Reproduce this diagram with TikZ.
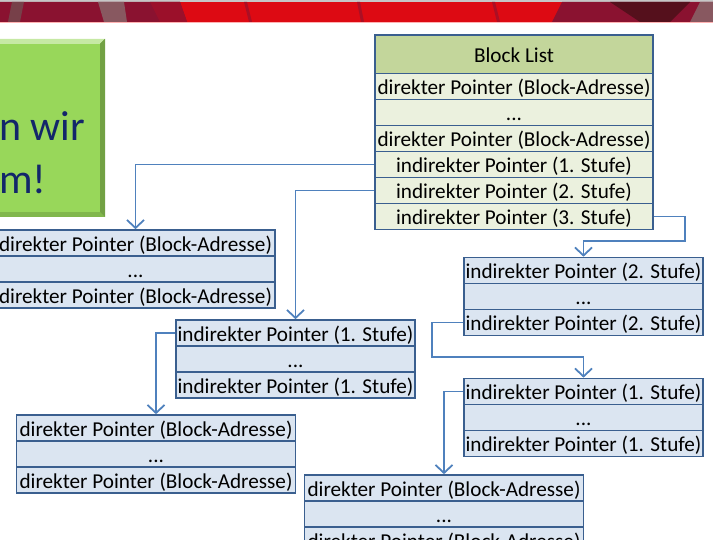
\documentclass[tikz,border=0pt]{standalone}
\usepackage{fontspec}
\setmainfont{Carlito}
\usetikzlibrary{arrows.meta}

\definecolor{tblline}{HTML}{3A5F8F}
\definecolor{arrline}{HTML}{4F81BD}
\definecolor{headfill}{HTML}{C3D69B}
\definecolor{listfill}{HTML}{EBF1DE}
\definecolor{blockfill}{HTML}{DBE5F1}
\definecolor{slidegreen}{HTML}{98D75A}
\definecolor{slidetext}{HTML}{13266A}
\definecolor{bannerred}{HTML}{DD0A13}
\definecolor{bannerdark}{HTML}{8A1230}
\definecolor{bannerdeep}{HTML}{55101C}

\tikzset{
  cell/.style={draw=tblline, line width=1.6pt, inner sep=0pt, minimum height=26pt,
    text height=18pt, text depth=1.2pt,
    font=\fontsize{21.2}{23}\selectfont, text=black},
  listcell/.style={cell, fill=listfill, minimum width=278pt},
  headcell/.style={cell, fill=headfill, minimum width=278pt, minimum height=38.5pt},
  dircell/.style={cell, fill=blockfill, minimum width=279pt},
  indcell/.style={cell, fill=blockfill, minimum width=239pt},
  arr/.style={draw=arrline, line width=1.8pt, -{Straight Barb[length=8pt,width=17pt,line width=1.8pt]}},
}

\begin{document}
\begin{tikzpicture}[x=1pt, y=-1pt]
  \useasboundingbox (0,0) rectangle (713,540);
  \clip (0,0) rectangle (713,540);

  % banner
  \fill[gray!45] (0,0) rectangle (713,2);
  \fill[bannerred] (0,2) rectangle (713,22);
  \fill[bannerdark] (0,2) -- (180,2) -- (187,22) -- (0,22) -- cycle;
  \fill[bannerdeep!80] (12,2) -- (24,2) -- (20,22) -- (8,22) -- cycle;
  \fill[bannerdeep!70] (98,2) -- (124,2) -- (127,22) -- (104,22) -- cycle;
  \fill[bannerdark!80!bannerred] (150,2) -- (180,2) -- (187,22) -- (160,22) -- cycle;
  \fill[bannerdark!60!bannerred] (244,2) -- (247,2) -- (252,22) -- (249,22) -- cycle;
  \fill[bannerdark!60!bannerred] (357,2) -- (360,2) -- (364,22) -- (361,22) -- cycle;
  \fill[bannerdark!60!bannerred] (492,2) -- (495,2) -- (500,22) -- (497,22) -- cycle;
  \fill[bannerdark] (562,2) -- (713,2) -- (713,22) -- (552,22) -- cycle;
  \fill[bannerdeep] (610,2) -- (690,2) -- (670,22) -- (640,22) -- cycle;
  \fill[bannerdeep!70] (700,2) -- (713,2) -- (713,22) -- (690,22) -- cycle;
  \fill[red!30] (0,22) rectangle (713,23);

  % green slide box
  \fill[slidegreen!70!black] (-10,39) rectangle (105,217);
  \fill[slidegreen!55!white] (-10,39) -- (105,39) -- (100,44) -- (-10,44) -- cycle;
  \fill[slidegreen!75!black] (105,39) -- (105,217) -- (100,212) -- (100,44) -- cycle;
  \fill[slidegreen!85!black] (-10,217) -- (105,217) -- (100,212) -- (-10,212) -- cycle;
  \fill[slidegreen] (-10,44) rectangle (100,212);
  \node[anchor=base west, inner sep=0pt, text=slidetext, font=\fontsize{42}{48}\selectfont] (gtxt1) at (-1,141) {n wir};
  \node[anchor=base west, inner sep=0pt, text=slidetext, font=\fontsize{42}{48}\selectfont] (gtxt2) at (-1,194) {m!};

  % block list
  \node[headcell] (bl0) at (514,54.25) {Block List};
  \node[listcell] (bl1) at (514,86.5) {direkter Pointer (Block-Adresse)};
  \node[listcell] (bl2) at (514,112.5) {...};
  \node[listcell] (bl3) at (514,138.5) {direkter Pointer (Block-Adresse)};
  \node[listcell] (bl4) at (514,164.5) {indirekter Pointer (1. Stufe)};
  \node[listcell] (bl5) at (514,190.5) {indirekter Pointer (2. Stufe)};
  \node[listcell] (bl6) at (514,216.5) {indirekter Pointer (3. Stufe)};

  % blocks of direct pointers
  \node[dircell] (da1) at (135.5,243) {direkter Pointer (Block-Adresse)};
  \node[dircell] (da2) at (135.5,269) {...};
  \node[dircell] (da3) at (135.5,295) {direkter Pointer (Block-Adresse)};
  \node[dircell] (db1) at (156,428) {direkter Pointer (Block-Adresse)};
  \node[dircell] (db2) at (156,454) {...};
  \node[dircell] (db3) at (156,480) {direkter Pointer (Block-Adresse)};
  \node[dircell] (dc1) at (444,488) {direkter Pointer (Block-Adresse)};
  \node[dircell] (dc2) at (444,514) {...};
  \node[dircell] (dc3) at (444,540) {direkter Pointer (Block-Adresse)};

  % blocks of indirect pointers
  \node[indcell] (ia1) at (295.5,333) {indirekter Pointer (1. Stufe)};
  \node[indcell] (ia2) at (295.5,359) {...};
  \node[indcell] (ia3) at (295.5,385) {indirekter Pointer (1. Stufe)};
  \node[indcell] (ib1) at (583.5,270.5) {indirekter Pointer (2. Stufe)};
  \node[indcell] (ib2) at (583.5,296.5) {...};
  \node[indcell] (ib3) at (583.5,322.5) {indirekter Pointer (2. Stufe)};
  \node[indcell] (ic1) at (583.5,391.5) {indirekter Pointer (1. Stufe)};
  \node[indcell] (ic2) at (583.5,417.5) {...};
  \node[indcell] (ic3) at (583.5,443.5) {indirekter Pointer (1. Stufe)};

  % bends
  \coordinate (k1) at (685,241);
  \coordinate (k2) at (432,357);

  \draw[arr] (bl4.west) -| (da1.north);
  \draw[arr] (bl5.west) -| (ia1.north);
  \draw[arr] (ia1.west) -| (db1.north);
  \draw[arr] (bl6.east) -| (k1) -| (ib1.north);
  \draw[arr] (ib3.west) -| (k2) -| (ic1.north);
  \draw[arr] (ic1.west) -| (dc1.north);
\end{tikzpicture}
\end{document}
